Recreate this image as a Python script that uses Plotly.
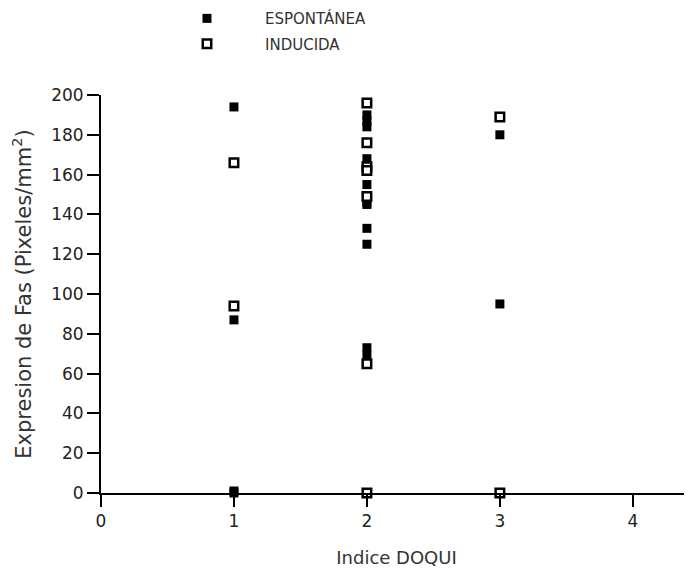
import plotly.graph_objects as go

# Data
esp_x = [1, 1, 1, 1,
         2, 2, 2, 2, 2, 2, 2, 2, 2, 2, 2, 2,
         3, 3]
esp_y = [194, 87, 0, 1,
         190, 187, 184, 168, 162, 155, 146, 145, 133, 125, 73, 69,
         180, 95]

ind_x = [1, 1,
         2, 2, 2, 2, 2, 2, 2,
         3, 3]
ind_y = [166, 94,
         196, 176, 164, 162, 149, 65, 0,
         189, 0]

x_ticks = [0, 1, 2, 3, 4]
y_ticks = [0, 20, 40, 60, 80, 100, 120, 140, 160, 180, 200]

FONT = "DejaVu Sans, Verdana, sans-serif"

fig = go.Figure()
fig.add_trace(go.Scatter(
    x=esp_x, y=esp_y, mode="markers", name="ESPONTÁNEA",
    legendgroup="a",
    marker=dict(symbol="square", size=9, color="black", line=dict(width=0)),
    cliponaxis=False,
))
fig.add_trace(go.Scatter(
    x=ind_x, y=ind_y, mode="markers", name="INDUCIDA",
    legendgroup="b",
    marker=dict(symbol="square", size=8.5, color="white",
                line=dict(width=2.5, color="black")),
    cliponaxis=False,
))

fig.update_layout(
    width=684, height=561,
    margin=dict(l=93, r=0, t=87, b=76, autoexpand=False),
    paper_bgcolor="white", plot_bgcolor="white",
    font=dict(family=FONT, color="#222"),
    showlegend=True,
    legend=dict(
        x=0.0812, y=1.2334, xanchor="left", yanchor="top",
        traceorder="grouped", tracegroupgap=3,
        itemwidth=106,
        font=dict(size=15, color="#333", family=FONT),
        bgcolor="rgba(0,0,0,0)",
    ),
    xaxis=dict(
        range=[0, 4.445], tickvals=x_ticks, ticktext=[str(v) for v in x_ticks],
        showline=True, linecolor="black", linewidth=2,
        ticks="outside", ticklen=12, tickwidth=2, tickcolor="black",
        showgrid=False, zeroline=False,
        tickfont=dict(size=17, color="#222", family=FONT),
        title=dict(text="Indice DOQUI", font=dict(size=18, color="#333", family=FONT),
                   standoff=21),
    ),
    yaxis=dict(
        range=[0, 200], tickvals=y_ticks,
        showline=True, linecolor="black", linewidth=2,
        ticks="outside", ticklen=12, tickwidth=2, tickcolor="black",
        showgrid=False, zeroline=False,
        tickfont=dict(size=17, color="#222", family=FONT),
        title=dict(text="Expresion de Fas (Pixeles/mm<sup>2</sup>)",
                   font=dict(size=21, color="#333", family=FONT), standoff=16),
    ),
)

fig.write_html("out.html")
